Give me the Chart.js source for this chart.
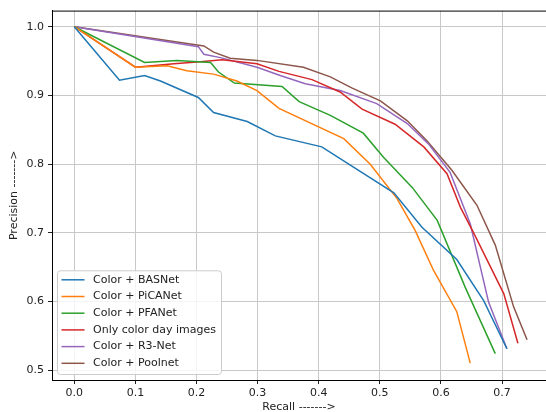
<!DOCTYPE html>
<html>
<head>
<meta charset="utf-8">
<script src="https://cdn.jsdelivr.net/npm/chart.js@4"></script>
<style>
  html, body { margin: 0; padding: 0; background: #fff; overflow: hidden; }
</style>
</head>
<body>
<canvas id="prChart" width="546" height="412"></canvas>
<script>
// values
const basnetRecall = [0, 0.074, 0.115, 0.141, 0.203, 0.228, 0.283, 0.329, 0.405, 0.523, 0.569, 0.626, 0.670, 0.708];
const basnetPrecision = [1.0, 0.922, 0.929, 0.921, 0.897, 0.875, 0.862, 0.841, 0.825, 0.758, 0.708, 0.661, 0.601, 0.531];

const picanetRecall = [0, 0.1, 0.152, 0.184, 0.228, 0.266, 0.299, 0.335, 0.441, 0.484, 0.528, 0.558, 0.588, 0.626, 0.648];
const picanetPrecision = [1.0, 0.941, 0.943, 0.936, 0.931, 0.921, 0.907, 0.881, 0.837, 0.800, 0.750, 0.703, 0.645, 0.585, 0.510];

const pfanetRecall = [0, 0.115, 0.168, 0.223, 0.236, 0.262, 0.340, 0.368, 0.419, 0.473, 0.506, 0.553, 0.594, 0.640, 0.689];
const pfanetPrecision = [1.0, 0.948, 0.951, 0.948, 0.934, 0.918, 0.913, 0.891, 0.871, 0.845, 0.810, 0.766, 0.718, 0.620, 0.524];

const dayRecall = [0, 0.1, 0.163, 0.206, 0.242, 0.299, 0.335, 0.389, 0.435, 0.471, 0.525, 0.572, 0.610, 0.632, 0.654, 0.703, 0.726];
const dayPrecision = [1.0, 0.941, 0.946, 0.949, 0.952, 0.946, 0.935, 0.923, 0.905, 0.880, 0.858, 0.825, 0.786, 0.737, 0.699, 0.611, 0.539];

const r3netRecall = [0, 0.203, 0.212, 0.239, 0.299, 0.337, 0.378, 0.435, 0.495, 0.545, 0.580, 0.615, 0.648, 0.678, 0.708];
const r3netPrecision = [1.0, 0.971, 0.960, 0.955, 0.941, 0.929, 0.917, 0.907, 0.888, 0.859, 0.829, 0.788, 0.713, 0.599, 0.531];

const poolnetRecall = [0, 0.212, 0.228, 0.255, 0.299, 0.375, 0.419, 0.454, 0.501, 0.545, 0.577, 0.618, 0.659, 0.689, 0.719, 0.741];
const poolnetPrecision = [1.0, 0.972, 0.963, 0.954, 0.951, 0.941, 0.927, 0.911, 0.892, 0.863, 0.834, 0.791, 0.740, 0.682, 0.592, 0.544];

const seriesNames = ['Color + BASNet', 'Color + PiCANet', 'Color + PFANet', 'Only color day images', 'Color + R3-Net', 'Color + Poolnet'];
const seriesColors = ['#1f77b4', '#ff7f0e', '#2ca02c', '#d62728', '#9467bd', '#8c564b'];
const recalls = [basnetRecall, picanetRecall, pfanetRecall, dayRecall, r3netRecall, poolnetRecall];
const precisions = [basnetPrecision, picanetPrecision, pfanetPrecision, dayPrecision, r3netPrecision, poolnetPrecision];

const font = { family: 'DejaVu Sans', size: 11 };

const datasets = seriesNames.map((name, i) => ({
  label: name,
  data: recalls[i].map((r, j) => ({ x: r, y: precisions[i][j] })),
  borderColor: seriesColors[i],
  backgroundColor: seriesColors[i],
  borderWidth: 1.5,
  pointRadius: 0,
  tension: 0,
  fill: false
}));

// legend box drawn inside the lower left corner of the plot, plus the top spine
const insideLegend = {
  id: 'insideLegend',
  afterDraw(chart) {
    const ctx = chart.ctx;
    const area = chart.chartArea;
    ctx.save();
    ctx.strokeStyle = '#000';
    ctx.lineWidth = 1;
    ctx.beginPath();
    ctx.moveTo(area.left, area.top + 0.5);
    ctx.lineTo(area.right, area.top + 0.5);
    ctx.stroke();

    ctx.font = '11px "DejaVu Sans"';
    const sets = chart.data.datasets;
    let maxW = 0;
    sets.forEach(ds => { maxW = Math.max(maxW, ctx.measureText(ds.label).width); });
    const rowH = 16.7;
    const w = 35 + maxW + 6;
    const h = sets.length * rowH + 3.5;
    const x0 = area.left + 5.5;
    const y0 = area.bottom - 6 - h;
    ctx.fillStyle = 'rgba(255,255,255,0.8)';
    ctx.strokeStyle = '#cccccc';
    ctx.beginPath();
    ctx.roundRect(x0, y0 + 0.5, w, h, 3);
    ctx.fill();
    ctx.stroke();

    ctx.textBaseline = 'middle';
    sets.forEach((ds, i) => {
      const y = y0 + 9.5 + i * rowH;
      ctx.strokeStyle = ds.borderColor;
      ctx.lineWidth = 1.5;
      ctx.beginPath();
      ctx.moveTo(x0 + 4, y);
      ctx.lineTo(x0 + 27, y);
      ctx.stroke();
      ctx.fillStyle = '#222';
      ctx.fillText(ds.label, x0 + 35.5, y);
    });
    ctx.restore();
  }
};

const ctx = document.getElementById('prChart').getContext('2d');
new Chart(ctx, {
  type: 'line',
  data: { datasets: datasets },
  options: {
    responsive: false,
    animation: false,
    layout: { padding: { top: 10, right: 0, left: 0, bottom: 0 } },
    plugins: {
      legend: { display: false },
      tooltip: { enabled: false }
    },
    scales: {
      x: {
        type: 'linear',
        min: -0.0365,
        max: 0.772,
        afterFit: scale => { scale.height = 32; },
        grid: { color: '#c8c8c8', lineWidth: 1, tickColor: '#222', tickLength: 4 },
        border: { display: true, color: '#000', width: 1 },
        ticks: {
          stepSize: 0.1,
          includeBounds: false,
          padding: 3,
          color: '#222',
          font: font,
          maxRotation: 0,
          callback: v => v.toFixed(1)
        },
        title: {
          display: true,
          text: 'Recall ------->',
          color: '#222',
          font: { family: 'DejaVu Sans', size: 11, lineHeight: 0.8 },
          padding: { top: 0, bottom: 0 }
        }
      },
      y: {
        type: 'linear',
        min: 0.4855,
        max: 1.0235,
        afterFit: scale => { scale.width = 52; },
        grid: { color: '#c8c8c8', lineWidth: 1, tickColor: '#222', tickLength: 4 },
        border: { display: true, color: '#000', width: 1 },
        ticks: {
          stepSize: 0.1,
          includeBounds: false,
          padding: 4,
          color: '#222',
          font: font,
          callback: v => v.toFixed(1)
        },
        title: { display: true, text: 'Precision ------->', color: '#222', font: font, padding: { top: 8, bottom: 0 } }
      }
    }
  },
  plugins: [insideLegend]
});
</script>
</body>
</html>
